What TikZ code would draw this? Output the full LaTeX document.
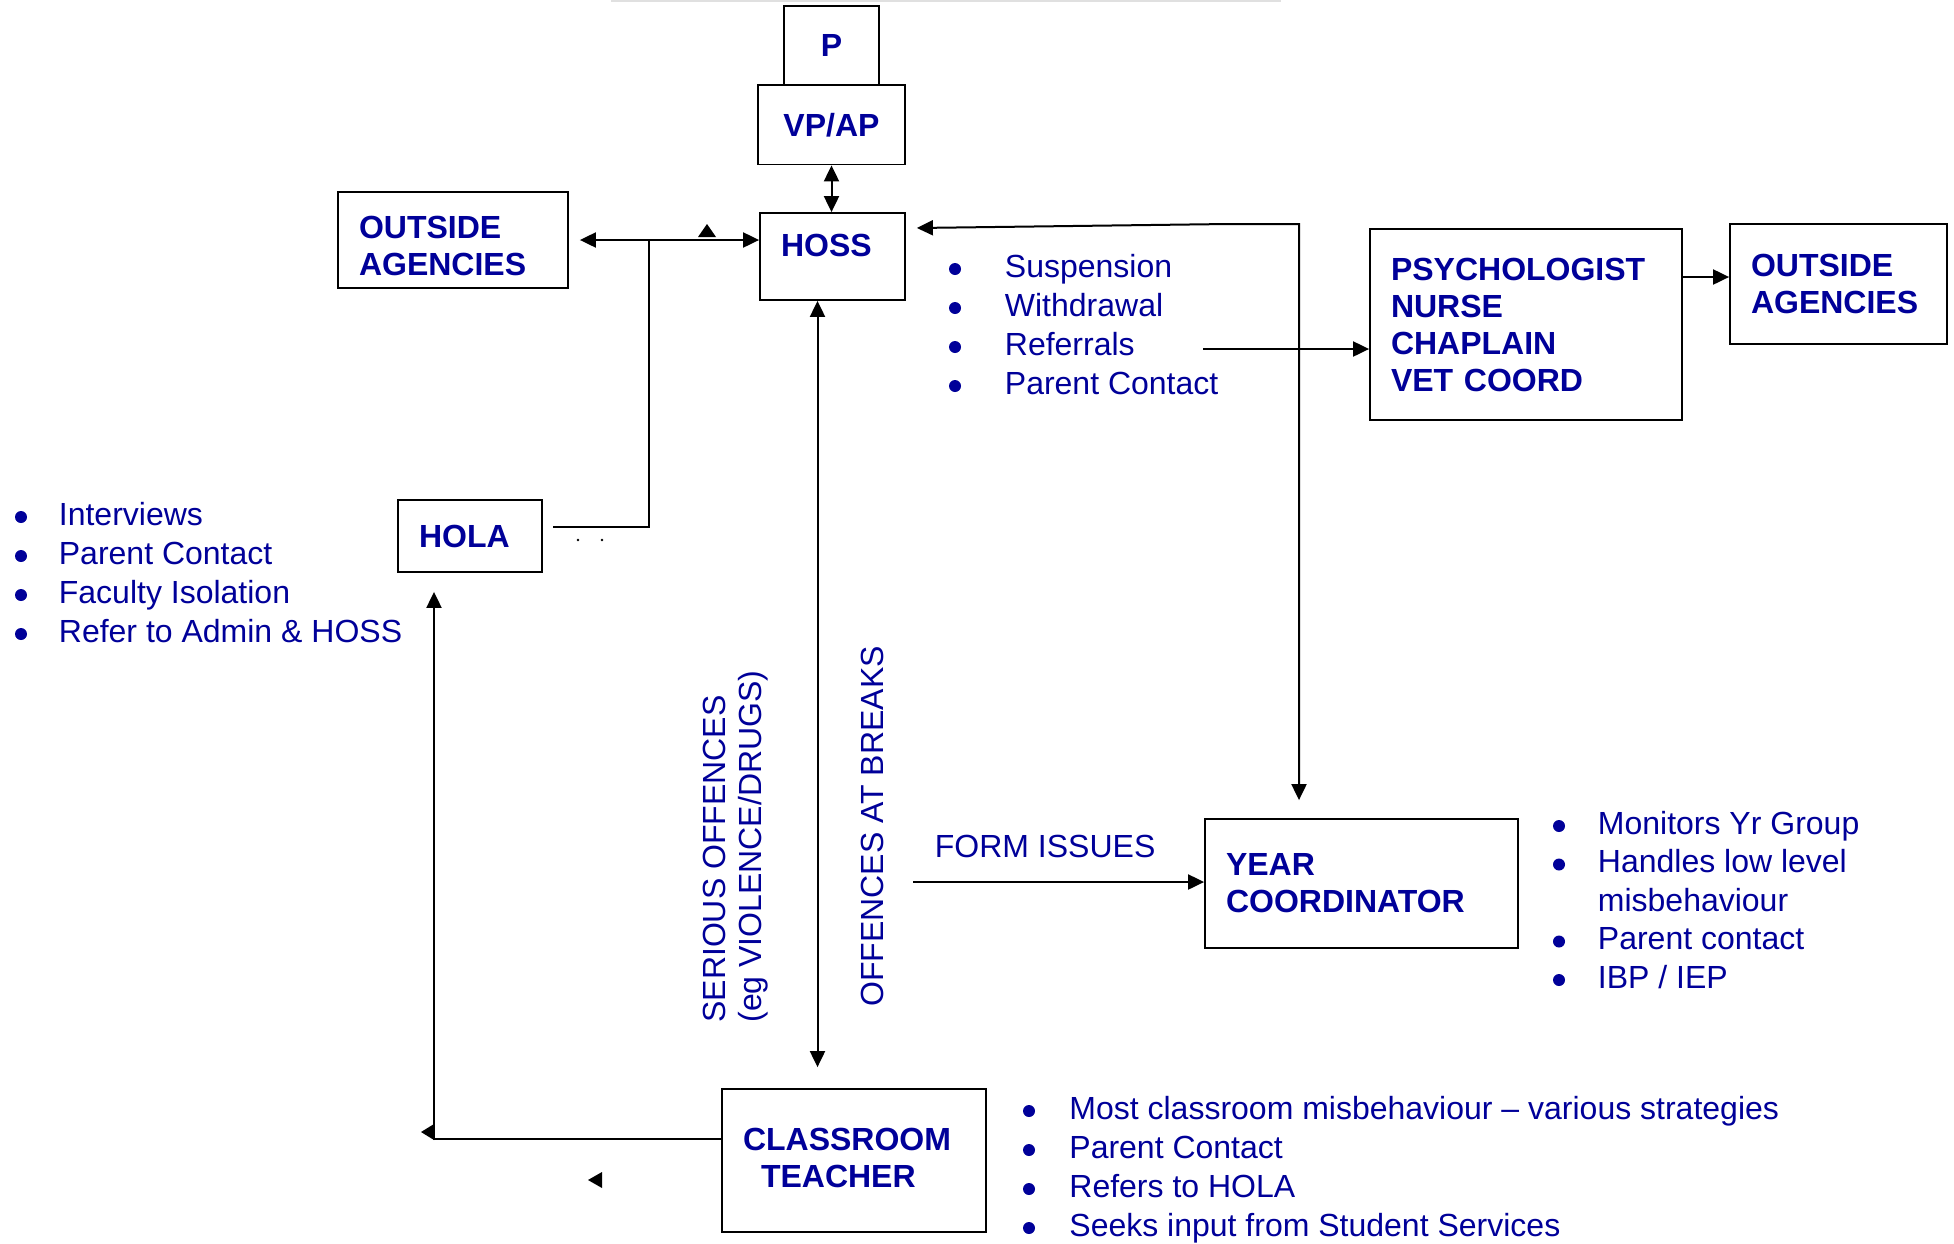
\documentclass[tikz,border=0pt]{standalone}
\usepackage{fontspec}
\setmainfont{Liberation Sans}
\usetikzlibrary{arrows.meta,calc}
\definecolor{SSNavy}{HTML}{000099}

\begin{document}
\begin{tikzpicture}[x=0.5pt,y=-0.5pt,>={Triangle[length=8pt,width=7.5pt]},
  box/.style={draw,line width=0.9pt,text=SSNavy,inner xsep=10.5pt,inner ysep=0pt,
    align=left,font=\bfseries\fontsize{16}{18.5}\selectfont},
  listitem/.style={anchor=base west,inner sep=0pt,text=SSNavy,
    font=\fontsize{16}{19}\selectfont},
  sidetext/.style={listitem,rotate=90},
  dot/.style={fill=SSNavy},
  flow/.style={line width=1pt}]
  \useasboundingbox (0,0) rectangle (1954,1243);
  \draw[black!12,line width=0.6pt] (611,1) -- (1281,1);

  % boxes
  \node[box,align=center,inner xsep=0pt,text width=47.5pt,minimum height=39.5pt] (p)
    at (831.5,45.5) {P};
  \node[box,align=center,inner xsep=0pt,text width=73.5pt,minimum height=39.75pt] (vpap)
    at (831.5,124.75) {VP/AP};
  \node[box,text width=51.5pt,minimum height=43.5pt,text depth=11.5pt] (hoss)
    at (832.5,256.5) {HOSS};
  \node[box,text width=94pt,minimum height=48pt] (oaleft)
    at (453,240) {\rule{0pt}{17pt}OUTSIDE\\AGENCIES};
  \node[box,text width=51pt,minimum height=36pt] (hola) at (470,536) {HOLA};
  \node[box,text width=135pt,minimum height=95.5pt] (psych)
    at (1526,324.5) {PSYCHOLOGIST\\NURSE\\CHAPLAIN\\VET COORD};
  \node[box,text width=87.5pt,minimum height=60pt] (oaright)
    at (1838.5,284) {OUTSIDE\\AGENCIES};
  \node[box,text width=135.5pt,minimum height=64.5pt] (yc)
    at (1361.5,883.5) {YEAR\\COORDINATOR};
  \node[box,text width=111pt,minimum height=71.5pt,text depth=21pt] (ct)
    at (854,1160.5) {CLASSROOM\\\hspace*{9pt}TEACHER};

  % bullet lists
  \foreach \txt [count=\i] in {Suspension,Withdrawal,Referrals,Parent Contact} {
    \node[listitem] (hossl\i) at (1004.5,{277+39*(\i-1)}) {\txt};
    \fill[dot] (955,{269+39*(\i-1)}) circle (6);
  }
  \foreach \txt [count=\i] in {Interviews,Parent Contact,Faculty Isolation,
      Refer to Admin \& HOSS} {
    \node[listitem] (holal\i) at (58.5,{525+39*(\i-1)}) {\txt};
    \fill[dot] (21,{517+39*(\i-1)}) circle (6);
  }
  \node[listitem] (ycl1) at (1597.5,834) {Monitors Yr Group};
  \node[listitem] (ycl2) at (1597.5,872.5) {Handles low level};
  \node[listitem] (ycl3) at (1597.5,911) {misbehaviour};
  \node[listitem] (ycl4) at (1597.5,949.5) {Parent contact};
  \node[listitem] (ycl5) at (1597.5,988) {IBP / IEP};
  \foreach \y in {826,864.5,941.5,980}
    \fill[dot] (1559,\y) circle (6);
  \foreach \txt [count=\i] in {Most classroom misbehaviour -- various strategies,
      Parent Contact,Refers to HOLA,Seeks input from Student Services} {
    \node[listitem] (ctl\i) at (1069,{1119+39*(\i-1)}) {\txt};
    \fill[dot] (1029,{1111+39*(\i-1)}) circle (6);
  }

  % connector labels
  \node[sidetext] (serious) at (725,1023) {SERIOUS OFFENCES};
  \node[sidetext] (eg) at (761,1023) {(eg VIOLENCE/DRUGS)};
  \node[sidetext] (breaks) at (883,1007) {OFFENCES AT BREAKS};
  \node[listitem] (form) at (934.5,857) {FORM ISSUES};

  % connectors
  \coordinate (jn) at (649,240);
  \coordinate (ybend) at (1228,224);
  \coordinate (ycorner) at (1299,224);
  \coordinate (refst) at (1203,349);
  \coordinate (formst) at (913,882);
  \coordinate (pso) at ($(psych.east)+(0,-47.5)$);
  \draw[flow,<->] (vpap.south) -- (vpap.south |- hoss.north);
  \draw[flow,<->] ($(oaleft.east)+(11,0)$) -- (oaleft.east -| hoss.west);
  \draw[flow] (jn) |- ($(hola.east)+(10,-9)$);
  \draw[flow,<->] ($(hoss.south)+(-15,0)$) -- ($(hoss.south |- ct.north)+(-15,-21)$);
  \draw[flow,<->] ($(hoss.east)+(11,-28.5)$) -- (ybend) -- (ycorner)
    -- ($(yc.north)+(-62.5,-18)$);
  \draw[flow,->] (refst) -- (refst -| psych.west);
  \draw[flow,->] (pso) -- (pso -| oaright.west);
  \draw[flow,->] (formst) -- (formst -| yc.west);
  \draw[flow,->] ($(ct.west)+(0,-21.5)$) -| ($(hola.south)+(-36,19)$);

  % stray marks
  \fill (698,237) -- (716,237) -- (707,224) -- cycle;
  \fill (434,1124) -- (434,1140) -- (421,1132) -- cycle;
  \fill (602,1172) -- (602,1188) -- (588,1180) -- cycle;
  \fill (578,540) circle (1.3) (602,540) circle (1.3);
\end{tikzpicture}
\end{document}
